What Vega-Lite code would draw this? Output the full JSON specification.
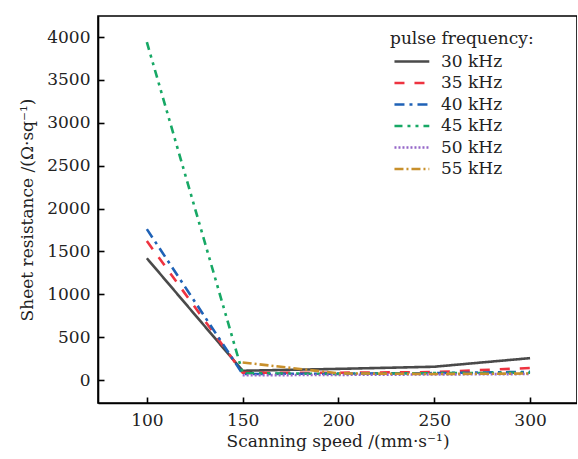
{
  "$schema": "https://vega.github.io/schema/vega-lite/v6.json",
  "width": 479,
  "height": 387,
  "autosize": "none",
  "padding": {"left": 98, "top": 16, "right": 0, "bottom": 56},
  "background": "white",
  "config": {
    "font": "DejaVu Serif",
    "view": {"stroke": "black", "strokeWidth": 1.6},
    "axis": {
      "domainColor": "black", "domainWidth": 1.6, "tickColor": "black", "tickWidth": 1.6,
      "labelFont": "DejaVu Serif", "labelFontSize": 17, "labelColor": "#222",
      "titleFont": "DejaVu Serif", "titleFontSize": 17, "titleFontWeight": "normal", "titleColor": "#222",
      "grid": false
    },
    "legend": {
      "titleFontSize": 17, "titleFontWeight": "normal", "titleColor": "#222", "titleFont": "DejaVu Serif",
      "labelFontSize": 17, "labelColor": "#222", "labelFont": "DejaVu Serif",
      "symbolType": "M-0.67,0H3.2", "symbolSize": 324, "symbolStrokeWidth": 2.6, "labelOffset": 30, "rowPadding": 2.5,
      "titlePadding": 3
    }
  },
  "data": {
    "values": [
      {"speed": 100, "R": 1420, "f": "30 kHz"},
      {"speed": 150, "R": 108, "f": "30 kHz"},
      {"speed": 200, "R": 130, "f": "30 kHz"},
      {"speed": 250, "R": 155, "f": "30 kHz"},
      {"speed": 300, "R": 255, "f": "30 kHz"},
      {"speed": 100, "R": 1620, "f": "35 kHz"},
      {"speed": 150, "R": 85, "f": "35 kHz"},
      {"speed": 200, "R": 85, "f": "35 kHz"},
      {"speed": 250, "R": 92, "f": "35 kHz"},
      {"speed": 300, "R": 140, "f": "35 kHz"},
      {"speed": 100, "R": 1760, "f": "40 kHz"},
      {"speed": 150, "R": 70, "f": "40 kHz"},
      {"speed": 200, "R": 75, "f": "40 kHz"},
      {"speed": 250, "R": 80, "f": "40 kHz"},
      {"speed": 300, "R": 95, "f": "40 kHz"},
      {"speed": 100, "R": 3940, "f": "45 kHz"},
      {"speed": 150, "R": 80, "f": "45 kHz"},
      {"speed": 200, "R": 70, "f": "45 kHz"},
      {"speed": 250, "R": 80, "f": "45 kHz"},
      {"speed": 300, "R": 85, "f": "45 kHz"},
      {"speed": 150, "R": 55, "f": "50 kHz"},
      {"speed": 200, "R": 60, "f": "50 kHz"},
      {"speed": 250, "R": 65, "f": "50 kHz"},
      {"speed": 300, "R": 70, "f": "50 kHz"},
      {"speed": 150, "R": 205, "f": "55 kHz"},
      {"speed": 200, "R": 78, "f": "55 kHz"},
      {"speed": 250, "R": 70, "f": "55 kHz"},
      {"speed": 300, "R": 76, "f": "55 kHz"}
    ]
  },
  "resolve": {"axis": {"x": "independent", "y": "independent"}},
  "layer": [
    {
      "mark": {"type": "line", "opacity": 0},
      "encoding": {
        "x": {
          "field": "speed", "type": "quantitative",
          "scale": {"domain": [74.5, 324.5], "nice": false, "zero": false},
          "axis": {"orient": "top", "offset": -387, "values": [100, 150, 200, 250, 300], "labels": false, "domain": false, "title": null, "ticks": true, "tickSize": 6, "tickColor": "black", "zindex": 2}
        },
        "y": {
          "field": "R", "type": "quantitative",
          "scale": {"domain": [-268, 4245], "nice": false, "zero": false},
          "axis": {"orient": "right", "offset": -479, "values": [0, 500, 1000, 1500, 2000, 2500, 3000, 3500, 4000], "labels": false, "domain": false, "title": null, "ticks": true, "tickSize": 6, "tickColor": "black", "zindex": 2}
        }
      }
    },
    {
      "mark": {"type": "line", "strokeWidth": 2.6},
      "encoding": {
        "x": {
          "field": "speed", "type": "quantitative",
          "scale": {"domain": [74.5, 324.5], "nice": false, "zero": false},
          "axis": {"orient": "bottom", "values": [100, 150, 200, 250, 300], "ticks": false, "labelPadding": 9, "title": "Scanning speed /(mm·s⁻¹)", "titlePadding": 5}
        },
        "y": {
          "field": "R", "type": "quantitative",
          "scale": {"domain": [-268, 4245], "nice": false, "zero": false},
          "axis": {"orient": "left", "values": [0, 500, 1000, 1500, 2000, 2500, 3000, 3500, 4000], "format": "d", "ticks": false, "labelPadding": 8, "title": "Sheet resistance /(Ω·sq⁻¹)", "titlePadding": 10}
        },
        "color": {
          "field": "f", "type": "nominal",
          "scale": {"domain": ["30 kHz", "35 kHz", "40 kHz", "45 kHz", "50 kHz", "55 kHz"],
                    "range": ["#4a4a4a", "#ee3340", "#1f62b6", "#17a865", "#9566c8", "#c8902c"]},
          "legend": {"title": "pulse frequency:", "orient": "none", "legendX": 292, "legendY": 15}
        },
        "strokeDash": {
          "field": "f", "type": "nominal",
          "scale": {"domain": ["30 kHz", "35 kHz", "40 kHz", "45 kHz", "50 kHz", "55 kHz"],
                    "range": [[1, 0], [10, 10], [10, 5, 3, 5], [8, 5, 3, 5, 3, 5], [2, 2], [9, 3, 2, 3]]},
          "legend": {"title": "pulse frequency:", "orient": "none", "legendX": 292, "legendY": 15}
        }
      }
    }
  ]
}
